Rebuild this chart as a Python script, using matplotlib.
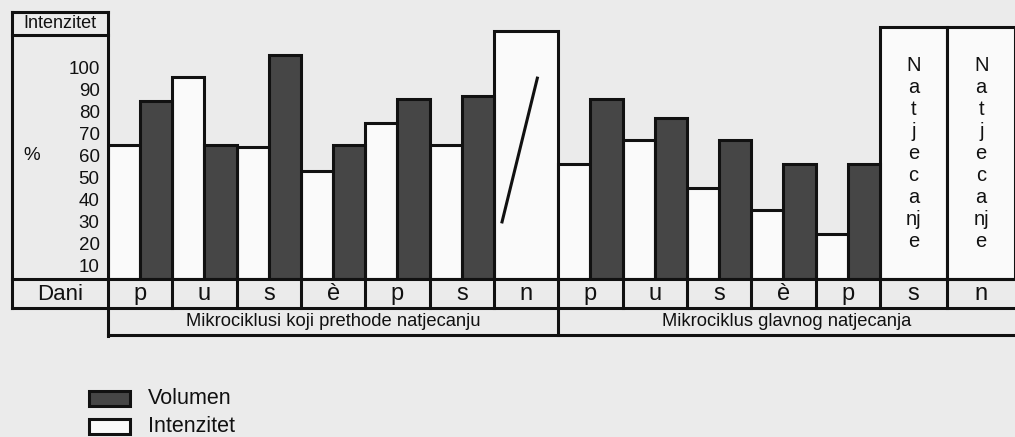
import numpy as np
import matplotlib
matplotlib.use("Agg")
import matplotlib.pyplot as plt
from matplotlib.patches import Rectangle
from matplotlib.transforms import blended_transform_factory

# ---------------- data ----------------
days = ['p', 'u', 's', 'è', 'p', 's', 'n', 'p', 'u', 's', 'è', 'p', 's', 'n']
intensity = [65, 96, 64, 53, 75, 65, 117, 56, 67, 45, 35, 24, None, None]
volume = [85, 65, 106, 65, 86, 87, None, 86, 77, 67, 56, 56, None, None]
competition_days = [12, 13]
competition_height = 118.5
competition_label = 'Natjecanje'
competition_letters = ['N', 'a', 't', 'j', 'e', 'c', 'a', 'nj', 'e']
yticks = [10, 20, 30, 40, 50, 60, 70, 80, 90, 100]
slash_x = [6.12, 6.68]
slash_y = [29, 96]
groups = ['Mikrociklusi koji prethode natjecanju', 'Mikrociklus glavnog natjecanja']
group_spans = [(0, 7), (7, 14)]
legend_labels = ['Volumen', 'Intenzitet']
header_text = 'Intenzitet'
unit_text = '%'
row_text = 'Dani'

# ---------------- style / layout ----------------
BG = '#ebebeb'
DARK = '#464646'
LIGHT = '#fafafa'
INK = '#111111'
LW = 2.2
FONT = 'Liberation Sans'
plt.rcParams['font.family'] = [FONT, 'DejaVu Sans']

W, H = 1015, 437
cell_w = [1.0] * 12 + [1.05, 1.05]
edges = np.concatenate([[0], np.cumsum(cell_w)])
centers = (edges[:-1] + edges[1:]) / 2

fig = plt.figure(figsize=(W / 100, H / 100), dpi=100, facecolor=BG)

# main bar axes (pixel box: x 108..1015, y 12..279)
AX_L, AX_R, AX_T, AX_B = 108, 1015, 12, 279
ax = fig.add_axes([AX_L / W, (H - AX_B) / H, (AX_R - AX_L) / W, (AX_B - AX_T) / H])
PX_PER_UNIT = 2.19
YMIN = 10 - (AX_B - 265) / PX_PER_UNIT
YMAX = 10 + (265 - AX_T) / PX_PER_UNIT
ax.set_xlim(edges[0], edges[-1])
ax.set_ylim(YMIN, YMAX)
ax.set_facecolor('none')
for s in ax.spines.values():
    s.set_visible(False)
ax.set_xticks([])
ax.set_yticks(yticks)
ax.set_yticklabels([str(v) for v in yticks], fontsize=13.5, color=INK)
ax.tick_params(axis='y', length=0, pad=6)

# bars
for i in range(len(days)):
    x0, x1 = edges[i], edges[i + 1]
    w = x1 - x0
    iv, vv = intensity[i], volume[i]
    if iv is not None and vv is None:
        ax.bar(x0, iv - YMIN, width=w, bottom=YMIN, align='edge',
               color=LIGHT, edgecolor=INK, linewidth=LW, zorder=2)
    elif iv is not None:
        ax.bar(x0, iv - YMIN, width=w / 2, bottom=YMIN, align='edge',
               color=LIGHT, edgecolor=INK, linewidth=LW, zorder=2)
    if vv is not None:
        ax.bar(x0 + w / 2, vv - YMIN, width=w / 2, bottom=YMIN, align='edge',
               color=DARK, edgecolor=INK, linewidth=LW, zorder=3)

for i in competition_days:
    ax.bar(edges[i], competition_height - YMIN, width=cell_w[i], bottom=YMIN,
           align='edge', color=LIGHT, edgecolor=INK, linewidth=LW, zorder=2,
           clip_on=False)
    ax.text(centers[i], 61, '\n'.join(competition_letters), ha='center',
            va='center', fontsize=14.5, linespacing=1.2, color=INK, zorder=4)

ax.plot(slash_x, slash_y, color=INK, lw=LW, zorder=4, solid_capstyle='butt')

# overlay in pixel coordinates for table frame
fr = fig.add_axes([0, 0, 1, 1], zorder=5)
fr.set_xlim(0, W)
fr.set_ylim(H, 0)
fr.axis('off')
fr.patch.set_visible(False)

def hline(y, x0, x1):
    fr.plot([x0, x1], [y, y], color=INK, lw=LW, solid_capstyle='projecting')

def vline(x, y0, y1):
    fr.plot([x, x], [y0, y1], color=INK, lw=LW, solid_capstyle='projecting')

# left column
hline(12, 12, 108)
hline(35, 12, 108)
vline(12, 12, 308)
vline(108, 12, 336)
fr.text(60, 24, header_text, ha='center', va='center', fontsize=13, color=INK)
fr.text(32, 156, unit_text, ha='center', va='center', fontsize=13.5, color=INK)

# rows
hline(279, 12, 1015)
hline(308, 12, 1015)
hline(335, 108, 1015)
fr.text(60, 294, row_text, ha='center', va='center', fontsize=16, color=INK)

bt = blended_transform_factory(ax.transData, fr.transData)
for e in edges[1:-1]:
    fr.plot([e, e], [279, 308], color=INK, lw=LW, transform=bt)
for c, d in zip(centers, days):
    fr.text(c, 294, d, ha='center', va='center', fontsize=17, color=INK, transform=bt)

fr.plot([edges[group_spans[1][0]]] * 2, [308, 335], color=INK, lw=LW, transform=bt)
for (a, b), g in zip(group_spans, groups):
    fr.text((edges[a] + edges[b]) / 2, 322, g, ha='center', va='center',
            fontsize=13.2, color=INK, transform=bt)

# legend
for k, (lab, col) in enumerate(zip(legend_labels, [DARK, LIGHT])):
    y0 = 391 + k * 28
    fr.add_patch(Rectangle((89, y0), 41, 15, facecolor=col, edgecolor=INK, lw=LW))
    fr.text(148, y0 + 7.5, lab, ha='left', va='center', fontsize=15.5, color=INK)

fig.savefig('out.png', dpi=100, facecolor=BG)
